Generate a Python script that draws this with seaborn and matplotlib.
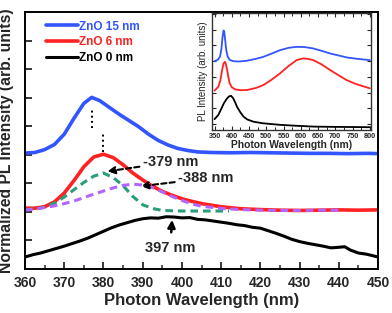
"""
ZnO PL spectra - normalized main plot with inset of full spectra
"""
import numpy as np
import pandas as pd
import matplotlib
matplotlib.use('Agg')
import matplotlib.pyplot as plt
import seaborn as sns

sns.set_theme(style='ticks')
plt.rcParams['font.family'] = ['Liberation Sans', 'DejaVu Sans']
plt.rcParams['font.weight'] = 'bold'

BLUE = '#3355ff'
RED = '#ff2222'
GREEN = '#2a9d7a'
PURPLE = '#b266ff'

# ---- main panel data (wavelength nm, normalized intensity, offset) ----
wl_blue = [360, 362.5, 365, 367.5, 370, 372.5, 375, 377, 379, 381.5, 384, 386.5,
           389, 391.5, 394, 396.5, 399, 401.5, 404, 407.5, 412.5, 417.5, 422.5,
           427.5, 432.5, 437.5, 442.5, 447.5, 450]
int_blue = [4.06, 4.08, 4.18, 4.36, 4.72, 5.28, 5.80, 6.01, 5.90, 5.66, 5.42, 5.20,
            4.98, 4.72, 4.50, 4.34, 4.22, 4.15, 4.10, 4.08, 4.07, 4.08, 4.07,
            4.06, 4.05, 4.05, 4.04, 4.05, 4.04]

wl_red = [360, 362.5, 365, 367.5, 370, 372.5, 375, 377.5, 380, 382.5, 385, 387.5,
          390, 392.5, 395, 397.5, 400, 402.5, 405, 410, 415, 420, 425, 430, 435,
          440, 445, 450]
int_red = [2.13, 2.13, 2.18, 2.35, 2.66, 3.10, 3.58, 3.92, 4.02, 3.90, 3.65, 3.36,
           3.12, 2.90, 2.72, 2.58, 2.46, 2.37, 2.29, 2.18, 2.11, 2.08, 2.06, 2.05, 2.06,
           2.07, 2.06, 2.07]

wl_fit379 = [360, 362.5, 365, 367.5, 370, 372.5, 375, 377.5, 380, 382.5, 385, 387.5,
             390, 392.5, 395, 400, 405, 412]
int_fit379 = [2.08, 2.10, 2.16, 2.30, 2.52, 2.78, 3.03, 3.25, 3.36, 3.20, 2.92, 2.54,
              2.25, 2.12, 2.05, 2.03, 2.03, 2.03]

wl_fit388 = [360, 362.5, 365, 367.5, 370, 372.5, 375, 377.5, 380, 382.5, 385, 387.5,
             390, 392.5, 395, 397.5, 400, 402.5, 405, 410, 415, 420, 425, 430, 435, 440]
int_fit388 = [2.06, 2.10, 2.15, 2.21, 2.29, 2.38, 2.50, 2.62, 2.73, 2.84, 2.93, 2.97,
              2.94, 2.85, 2.70, 2.54, 2.40, 2.28, 2.20, 2.12, 2.08, 2.06, 2.05, 2.05, 2.06, 2.06]

wl_black = [360, 362, 364, 366, 368, 370, 372, 374, 376, 378, 380, 382, 384, 386, 388,
            390, 392, 394, 396, 398, 400, 402, 404, 406, 408, 410, 412, 414, 416, 418,
            420, 422, 424, 426, 428, 430, 432, 434, 436, 438, 440, 441.5, 443, 445, 447, 450]
int_black = [0.42, 0.50, 0.56, 0.64, 0.72, 0.80, 0.89, 0.98, 1.08, 1.20, 1.32, 1.44,
             1.54, 1.62, 1.70, 1.76, 1.79, 1.78, 1.83, 1.82, 1.79, 1.80, 1.74, 1.72, 1.68,
             1.64, 1.60, 1.55, 1.52, 1.46, 1.43, 1.34, 1.25, 1.15, 1.04, 0.96, 0.90, 0.85,
             0.80, 0.74, 0.76, 0.78, 0.66, 0.56, 0.52, 0.42]

# ---- inset data (full spectra, offset) ----
wl_in_blue = [350, 360, 366, 370, 373, 376, 378, 381, 384, 388, 394, 405, 420, 444, 470,
              492, 515, 540, 565, 588, 610, 636, 660, 685, 710, 733, 760, 785, 800]
int_in_blue = [4.0, 4.1, 4.3, 4.8, 5.5, 5.95, 5.9, 5.3, 4.7, 4.3, 4.08, 4.0, 3.98, 4.03,
               4.15, 4.28, 4.48, 4.7, 4.85, 4.91, 4.9, 4.81, 4.66, 4.49, 4.36, 4.24, 4.16,
               4.1, 4.07]

wl_in_red = [350, 361, 367, 372, 376, 380, 383, 386.6, 390, 394, 400, 410, 425, 444, 470,
             492, 515, 540, 565, 588, 607, 620, 636, 660, 685, 710, 733, 760, 785, 800]
int_in_red = [2.13, 2.38, 2.8, 3.44, 3.85, 3.96, 3.8, 3.44, 3.0, 2.59, 2.35, 2.21, 2.16,
              2.17, 2.3, 2.49, 2.82, 3.23, 3.7, 4.07, 4.18, 4.15, 4.07, 3.8, 3.44, 3.1,
              2.8, 2.55, 2.38, 2.28]

wl_in_black = [350, 361, 370, 377, 385, 392, 398, 404, 410, 415, 425, 434, 445, 463, 490,
               520, 540, 580, 636, 700, 760, 800]
int_in_black = [0.32, 0.59, 1.0, 1.33, 1.6, 1.77, 1.8, 1.65, 1.38, 1.11, 0.75, 0.48, 0.3,
                0.16, 0.06, 0.0, -0.04, -0.09, -0.15, -0.17, -0.18, -0.19]

x_ticks = [360, 370, 380, 390, 400, 410, 420, 430, 440, 450]
inset_ticks = [350, 400, 450, 500, 550, 600, 650, 700, 750, 800]

fig = plt.figure(figsize=(3.92, 3.13), dpi=100)
ax = fig.add_axes([0.0638, 0.1406, 0.9005, 0.821])

def draw(axis, wl, y, color, lw, dash=None, label=None):
    df = pd.DataFrame({'wl': wl, 'y': y})
    sns.lineplot(data=df, x='wl', y='y', ax=axis, color=color, lw=lw,
                 label=label, legend=False, sort=False)
    line = axis.get_lines()[-1]
    line.set_solid_joinstyle('round')
    if dash is not None:
        line.set_dashes(dash)
    return line

h_blue = draw(ax, wl_blue, int_blue, BLUE, 2.6)
h_red = draw(ax, wl_red, int_red, RED, 2.6)
h_black = draw(ax, wl_black, int_black, 'black', 2.2)
draw(ax, wl_fit379, int_fit379, GREEN, 2.2, dash=(2.5, 1.6))
draw(ax, wl_fit388, int_fit388, PURPLE, 2.2, dash=(2.5, 1.6))

# dotted peak markers
ax.vlines(377, 4.93, 5.56, color='black', ls=':', lw=1.4)
ax.vlines(380, 4.10, 4.79, color='black', ls=':', lw=1.4)

ax.set_xlim(360, 450)
ax.set_ylim(0, 9)
ax.set_xticks(x_ticks)
ax.set_xticks(np.arange(365, 450, 10), minor=True)
ax.set_yticks(range(1, 9))
ax.set_yticklabels([])
ax.tick_params(direction='in', length=5, width=1.3, labelsize=10, pad=5,
               right=False, top=False)
ax.tick_params(which='minor', direction='in', length=3, width=1.1, bottom=True)
for lbl in ax.get_xticklabels():
    lbl.set_fontweight('bold')
for sp in ax.spines.values():
    sp.set_linewidth(1.4)
    sp.set_color('black')
    sp.set_visible(True)
ax.set_xlabel('Photon Wavelength (nm)', fontsize=12, fontweight='bold', labelpad=2)
ax.set_ylabel('Normalized PL Intensity (arb. units)', fontsize=11.3,
              fontweight='bold', labelpad=3)

leg = ax.legend([h_blue, h_red, h_black], ['ZnO 15 nm', 'ZnO 6 nm', 'ZnO 0 nm'],
                loc='upper left', bbox_to_anchor=(0.03, 1.008), frameon=False,
                handlelength=2.7, handletextpad=0.1, labelspacing=0.3,
                labelcolor='linecolor', prop={'weight': 'bold', 'size': 8.5})

ann = dict(fontsize=10.5, fontweight='bold', va='center', ha='left')
ax.annotate('-379 nm', xy=(381.0, 3.42), xytext=(390.0, 3.74),
            arrowprops=dict(arrowstyle='-|>', color='black', lw=1.5, ls=(0, (2.5, 1.5)),
                            mutation_scale=11, shrinkA=0, shrinkB=0), **ann)
ax.annotate('-388 nm', xy=(389.5, 2.9), xytext=(399.0, 3.17),
            arrowprops=dict(arrowstyle='-|>', color='black', lw=1.5, ls=(0, (2.5, 1.5)),
                            mutation_scale=11, shrinkA=0, shrinkB=0), **ann)
ax.annotate('397 nm', xy=(397.5, 1.72), xytext=(397.0, 0.73), ha='center',
            va='center', fontsize=10.5, fontweight='bold',
            arrowprops=dict(arrowstyle='-|>', color='black', lw=1.8,
                            mutation_scale=11, shrinkA=4, shrinkB=0))

# ---- inset ----
axi = fig.add_axes([0.542, 0.585, 0.404, 0.373])
axi.set_facecolor('white')
draw(axi, wl_in_blue, int_in_blue, BLUE, 1.3)
draw(axi, wl_in_red, int_in_red, RED, 1.3)
draw(axi, wl_in_black, int_in_black, 'black', 1.3)
axi.set_xlim(344, 803)
axi.set_ylim(-0.36, 7.05)
axi.set_xticks(inset_ticks)
axi.set_xticks(np.arange(375, 800, 50), minor=True)
axi.set_yticks(range(0, 8))
axi.set_yticklabels([])
axi.tick_params(direction='in', length=3, width=0.8, labelsize=5.3, pad=2,
                top=True, right=True)
axi.tick_params(which='minor', direction='in', length=2, width=0.7,
                top=True, bottom=True)
for lbl in axi.get_xticklabels():
    lbl.set_fontweight('bold')
for sp in axi.spines.values():
    sp.set_linewidth(1.0)
    sp.set_color('#333333')
axi.set_xlabel('Photon Wavelength (nm)', fontsize=7.4, fontweight='bold', labelpad=0)
axi.set_ylabel('PL Intensity (arb. units)', fontsize=7, fontweight='normal', labelpad=1)

fig.savefig('out.png', dpi=100)
